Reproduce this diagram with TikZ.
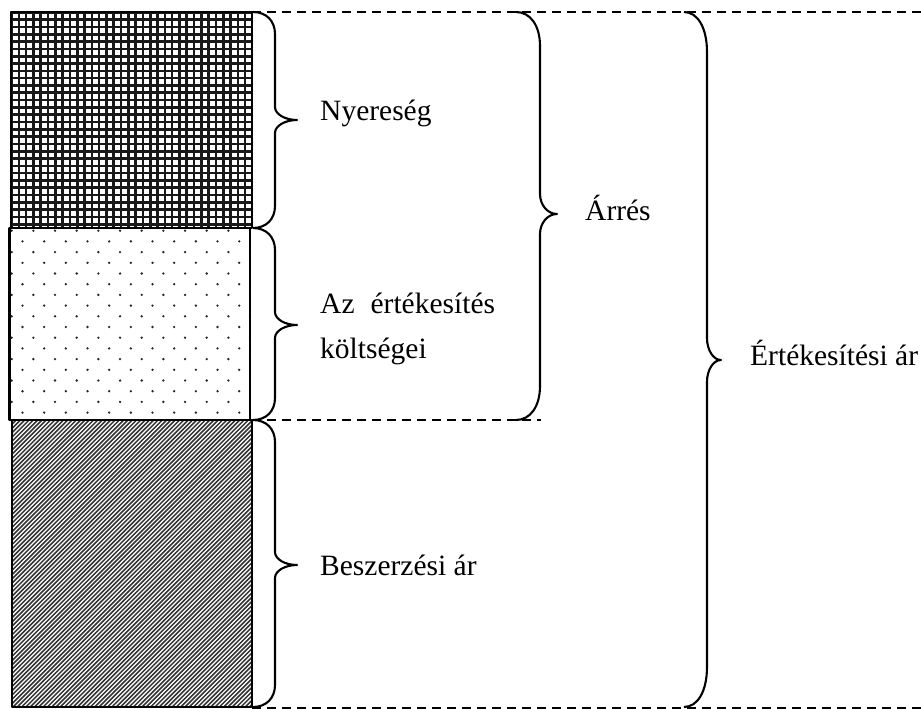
\documentclass[tikz,border=0pt]{standalone}
\usepackage{fontspec}
\setmainfont{Liberation Serif}
\tikzset{
  gridline/.style={line width=2.6pt,black!90},
  dotmark/.style={fill=black!85},
  stripe/.style={line width=1.5pt,black!80},
  boxline/.style={line width=2.5pt,black},
  dashline/.style={line width=2pt,dash pattern=on 9pt off 6pt,black},
  braceline/.style={line width=2.1pt,black},
  lbl/.style={font=\fontsize{29.5}{36}\selectfont,inner sep=0pt,anchor=base west}
}
\newcommand\mybrace[8]{%
  \draw[braceline] (#1,#4) .. controls ({#1+0.6*(#2-#1)},#4) and (#2,{#4+0.4*#7}) .. (#2,{#4+#7})
    -- (#2,{#5-#8}) .. controls (#2,{#5-0.45*#8}) and ({#2+0.45*(#3-#2)},#5) .. (#3,#5)
    .. controls ({#2+0.45*(#3-#2)},#5) and (#2,{#5+0.45*#8}) .. (#2,{#5+#8})
    -- (#2,{#6-#7}) .. controls (#2,{#6-0.4*#7}) and ({#1+0.6*(#2-#1)},#6) .. (#1,#6);}
\begin{document}
\begin{tikzpicture}[x=1pt,y=-1pt,line join=round]
\useasboundingbox (0,0) rectangle (922,709);
% grid pattern (top block)
\begin{scope}
  \clip (11,12) rectangle (252,228);
  \foreach \i in {0,...,33} \draw[gridline] ({11.5+\i*7.3},12) -- ({11.5+\i*7.3},228);
  \foreach \j in {0,...,30} \draw[gridline] (11,{12.5+\j*7.3}) -- (252,{12.5+\j*7.3});
\end{scope}
% dotted pattern (middle block)
\begin{scope}
  \clip (9.5,228) rectangle (250,420);
  \foreach \k in {0,...,17} {
    \pgfmathsetmacro\yy{230.7+\k*10.7}
    \pgfmathsetmacro\xs{ifthenelse(mod(\k,2)==0,11.7,22.5)}
    \foreach \m in {0,...,11} \fill[dotmark] ({\xs+\m*21.67},\yy) circle (1.3pt);
  }
\end{scope}
% striped pattern (bottom block)
\begin{scope}
  \clip (12,420) rectangle (252,707);
  \foreach \i in {0,...,135} \draw[stripe] ({-290+\i*4.3},709) -- ({\i*4.3},419);
\end{scope}
% block outlines
\draw[boxline] (11,12) rectangle (252,228);
\draw[boxline] (9.5,228) rectangle (250,420);
\draw[boxline] (12,420) rectangle (252,707);
% dashed guide lines
\coordinate (t1) at (252,12.5); \coordinate (t2) at (922,12.5);
\coordinate (m1) at (252,420); \coordinate (m2) at (541,420);
\coordinate (b1) at (252,707.5); \coordinate (b2) at (922,707.5);
\draw[dashline] (t1) -- (t2);
\draw[dashline] (m1) -- (m2);
\draw[dashline] (b1) -- (b2);
% braces
\mybrace{253}{275}{297}{12}{120}{228}{22}{13}
\mybrace{253}{275}{297}{228}{325}{420}{22}{13}
\mybrace{253}{275}{297}{420}{565}{707}{22}{13}
\mybrace{516}{540}{557}{12}{214}{420}{34}{20}
\mybrace{684}{707}{721}{12}{360}{707}{40}{22}
% labels
\node[lbl] (ny) at (320,121) {Nyereség};
\node[lbl] (az1) at (320,313) {Az\hspace{16pt}értékesítés};
\node[lbl] (az2) at (320,358) {költségei};
\node[lbl] (be) at (320,575) {Beszerzési ár};
\node[lbl] (ar) at (585,220) {Árrés};
\node[lbl] (ea) at (750,365) {Értékesítési ár};
\end{tikzpicture}
\end{document}
